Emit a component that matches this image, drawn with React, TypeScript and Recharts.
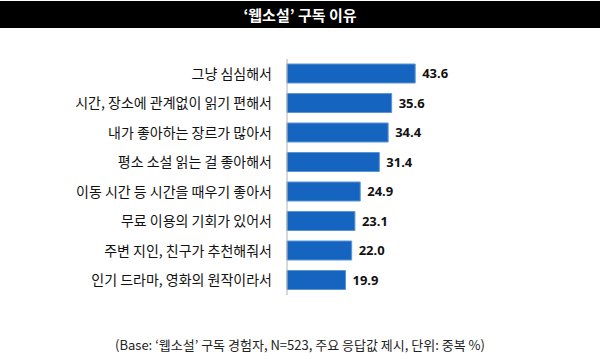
import { BarChart, Bar, XAxis, YAxis, LabelList } from "recharts";

const TITLE = "‘웹소설’ 구독 이유";
const NOTE = "(Base: ‘웹소설’ 구독 경험자, N=523, 주요 응답값 제시, 단위: 중복 %)";

const reasons = [
  "그냥 심심해서",
  "시간, 장소에 관계없이 읽기 편해서",
  "내가 좋아하는 장르가 많아서",
  "평소 소설 읽는 걸 좋아해서",
  "이동 시간 등 시간을 때우기 좋아서",
  "무료 이용의 기회가 있어서",
  "주변 지인, 친구가 추천해줘서",
  "인기 드라마, 영화의 원작이라서",
];
const shares = [43.6, 35.6, 34.4, 31.4, 24.9, 23.1, 22.0, 19.9];

const data = reasons.map((reason, i) => ({ reason, share: shares[i] }));

const KR_FONT = "'Noto Sans CJK KR', 'Noto Sans', sans-serif";

export default function App() {
  return (
    <div
      style={{
        position: "absolute",
        left: 0,
        top: 0,
        width: 600,
        height: 359,
        background: "#ffffff",
        fontFamily: KR_FONT,
      }}
    >
      <div
        style={{
          position: "absolute",
          left: 0,
          top: 1,
          width: 600,
          height: 27,
          background: "#000000",
          color: "#ffffff",
          fontSize: 15,
          fontWeight: 700,
          lineHeight: "27px",
          textAlign: "center",
        }}
      >
        {TITLE}
      </div>
      <div style={{ position: "absolute", left: 0, top: 0 }}>
        <BarChart
          width={600}
          height={359}
          data={data}
          layout="vertical"
          margin={{ top: 59, right: 166, bottom: 64, left: 0 }}
          barCategoryGap={5}
        >
          <XAxis type="number" domain={[0, 50]} hide />
          <YAxis
            type="category"
            dataKey="reason"
            width={287}
            tickLine={false}
            tickMargin={9}
            axisLine={{ stroke: "#b0b0b0" }}
            tick={{ fill: "#111111", fontSize: 14, fontFamily: KR_FONT }}
            interval={0}
          />
          <Bar
            dataKey="share"
            fill="#1565c0"
            stroke="#5b95d6"
            strokeWidth={1}
            barSize={19}
            isAnimationActive={false}
          >
            <LabelList
              dataKey="share"
              position="right"
              offset={7}
              formatter={(v: any) => Number(v).toFixed(1)}
              style={{
                fill: "#111111",
                fontSize: 13,
                fontWeight: 700,
                fontFamily: "'Noto Sans', sans-serif",
              }}
            />
          </Bar>
        </BarChart>
      </div>
      <div
        style={{
          position: "absolute",
          left: 0,
          top: 336,
          width: 600,
          textAlign: "center",
          fontSize: 13,
          color: "#222222",
          lineHeight: "18px",
        }}
      >
        {NOTE}
      </div>
    </div>
  );
}
